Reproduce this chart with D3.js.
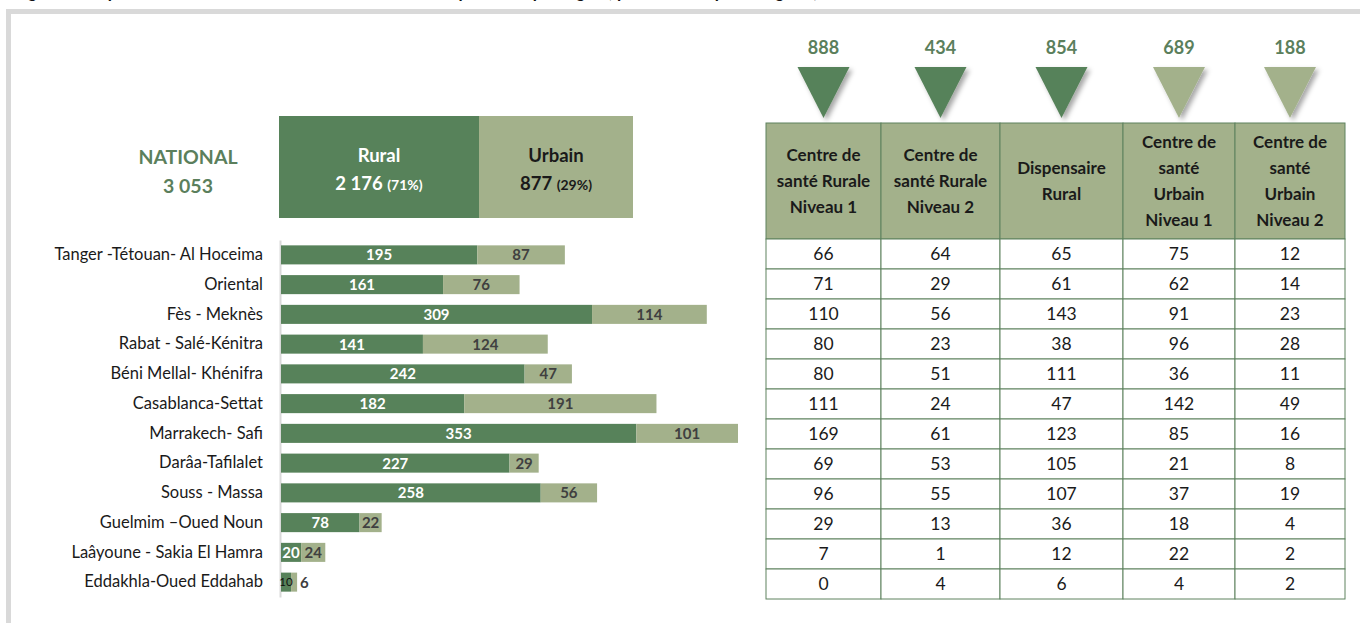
<!DOCTYPE html>
<html>
<head>
<meta charset="utf-8">
<script src="https://cdn.jsdelivr.net/npm/d3@7"></script>
<style>
body { margin: 0; background: #fff; }
svg { display: block; font-family: Lato, "Open Sans", sans-serif; }
</style>
</head>
<body>
<svg width="1360" height="623"></svg>
<script>
// data
var regions = ["Tanger -Tétouan- Al Hoceima", "Oriental", "Fès - Meknès", "Rabat - Salé-Kénitra",
	"Béni Mellal- Khénifra", "Casablanca-Settat", "Marrakech- Safi", "Darâa-Tafilalet",
	"Souss - Massa", "Guelmim \u2013Oued Noun", "Laâyoune - Sakia El Hamra", "Eddakhla-Oued Eddahab"];
var rural  = [195, 161, 309, 141, 242, 182, 353, 227, 258, 78, 20, 10];
var urbain = [87, 76, 114, 124, 47, 191, 101, 29, 56, 22, 24, 6];

var national = 3053, ruralTotal = 2176, urbainTotal = 877;
var ruralPct = "71%", urbainPct = "29%";

var categories = [
	["Centre de", "santé Rurale", "Niveau 1"],
	["Centre de", "santé Rurale", "Niveau 2"],
	["Dispensaire", "Rural"],
	["Centre de", "santé", "Urbain", "Niveau 1"],
	["Centre de", "santé", "Urbain", "Niveau 2"]];
var catMilieu = ["rural", "rural", "rural", "urbain", "urbain"];
var catTotals = [888, 434, 854, 689, 188];

var csr1 = [66, 71, 110, 80, 80, 111, 169, 69, 96, 29, 7, 0];
var csr2 = [64, 29, 56, 23, 51, 24, 61, 53, 55, 13, 1, 4];
var drur = [65, 61, 143, 38, 111, 47, 123, 105, 107, 36, 12, 6];
var csu1 = [75, 62, 91, 96, 36, 142, 85, 21, 37, 18, 22, 4];
var csu2 = [12, 14, 23, 28, 11, 49, 16, 8, 19, 4, 2, 2];
var tableCols = [csr1, csr2, drur, csu1, csu2];

var titleText = "Figure 3 : Répartition des établissements de soins de santé primaires par région, par milieu et par catégorie, 2019";

// colours
var dark = "#57825a", light = "#a3b18b", txtGreen = "#5b7f5c", border = "#5e825f";

var fmt = d3.formatLocale({decimal: ",", thousands: " ", grouping: [3], currency: ["", ""]}).format(",d");

var svg = d3.select("svg");

// title (cut by the top edge, as in the source) + frame
svg.append("text")
	.attr("x", 14).attr("y", -2)
	.attr("font-size", 17).attr("font-weight", 700).attr("fill", "#111")
	.text(titleText);

svg.append("rect")
	.attr("x", 8.5).attr("y", 11.5)
	.attr("width", 1400).attr("height", 700)
	.attr("fill", "none").attr("stroke", "#d9d9d9").attr("stroke-width", 5);

// national block
svg.append("text").attr("x", 188).attr("y", 164)
	.attr("text-anchor", "middle").attr("font-size", 19.5).attr("font-weight", 700)
	.attr("fill", txtGreen).text("NATIONAL");
svg.append("text").attr("x", 188).attr("y", 193)
	.attr("text-anchor", "middle").attr("font-size", 19.5).attr("font-weight", 700)
	.attr("fill", txtGreen).text(fmt(national));

var boxes = [
	{name: "Rural", total: ruralTotal, pct: ruralPct, x: 279, w: 200, fill: dark, col: "#fff"},
	{name: "Urbain", total: urbainTotal, pct: urbainPct, x: 479, w: 154, fill: light, col: "#1a1a1a"}];

var box = svg.selectAll("g.box").data(boxes).enter().append("g").attr("class", "box");
box.append("rect")
	.attr("x", function(d) { return d.x; }).attr("y", 116)
	.attr("width", function(d) { return d.w; }).attr("height", 102)
	.attr("fill", function(d) { return d.fill; });
box.append("text")
	.attr("x", function(d) { return d.x + d.w / 2; }).attr("y", 162)
	.attr("text-anchor", "middle").attr("font-size", 18.5).attr("font-weight", 700)
	.attr("fill", function(d) { return d.col; })
	.text(function(d) { return d.name; });
var t2 = box.append("text")
	.attr("x", function(d) { return d.x + d.w / 2; }).attr("y", 190)
	.attr("text-anchor", "middle").attr("font-size", 18.5).attr("font-weight", 700)
	.attr("fill", function(d) { return d.col; });
t2.append("tspan").text(function(d) { return fmt(d.total) + " "; });
t2.append("tspan").attr("font-size", 14).text(function(d) { return "(" + d.pct + ")"; });

// stacked bars
var x = d3.scaleLinear().domain([0, 454]).range([281, 738]);
var y = d3.scaleBand().domain(regions).range([240, 597]).paddingInner(0.36).paddingOuter(0.18);

var axis = svg.append("g")
	.attr("transform", "translate(280,0)")
	.call(d3.axisLeft(y).tickSize(0).tickPadding(17));
axis.select(".domain").attr("stroke", "#d9d9d9").attr("stroke-width", 2);
axis.selectAll("text").attr("font-size", 16.5).attr("fill", "#1a1a1a")
	.attr("font-family", "Lato, 'Open Sans', sans-serif");

var rows = regions.map(function(r, i) { return {region: r, rural: rural[i], urbain: urbain[i]}; });

var bar = svg.selectAll("g.bar").data(rows).enter().append("g").attr("class", "bar");

bar.append("rect")
	.attr("x", x(0)).attr("y", function(d) { return y(d.region); })
	.attr("width", function(d) { return x(d.rural) - x(0); })
	.attr("height", y.bandwidth()).attr("fill", dark);
bar.append("rect")
	.attr("x", function(d) { return x(d.rural); }).attr("y", function(d) { return y(d.region); })
	.attr("width", function(d) { return x(d.rural + d.urbain) - x(d.rural); })
	.attr("height", y.bandwidth()).attr("fill", light);

bar.append("text")
	.attr("x", function(d) { return (x(0) + x(d.rural)) / 2; })
	.attr("y", function(d) { return y(d.region) + y.bandwidth() / 2; })
	.attr("dy", "0.36em").attr("text-anchor", "middle")
	.attr("font-size", function(d) { return x(d.rural) - x(0) < 15 ? 11.5 : 15; })
	.attr("font-weight", function(d) { return x(d.rural) - x(0) < 15 ? 400 : 700; })
	.attr("fill", function(d) { return x(d.rural) - x(0) < 15 ? "#111" : "#fff"; })
	.text(function(d) { return d.rural; });

bar.append("text")
	.attr("x", function(d) {
		var w = x(d.rural + d.urbain) - x(d.rural);
		return w < 12 ? x(d.rural + d.urbain) + 3 : (x(d.rural) + x(d.rural + d.urbain)) / 2;
	})
	.attr("y", function(d) { return y(d.region) + y.bandwidth() / 2; })
	.attr("dy", "0.36em")
	.attr("text-anchor", function(d) { return x(d.rural + d.urbain) - x(d.rural) < 12 ? "start" : "middle"; })
	.attr("font-size", 15).attr("font-weight", 700).attr("fill", "#404040")
	.text(function(d) { return d.urbain; });

// table
var colEdges = [766, 881, 1000, 1123, 1235, 1345];
var headTop = 123, headBottom = 239;
var ty = d3.scaleBand().domain(regions).range([headBottom, 599]);

var defs = svg.append("defs");
var f = defs.append("filter").attr("id", "shadow")
	.attr("x", "-30%").attr("y", "-30%").attr("width", "170%").attr("height", "170%");
f.append("feDropShadow").attr("dx", 3).attr("dy", 3).attr("stdDeviation", 2.5)
	.attr("flood-color", "#000").attr("flood-opacity", 0.35);

var cols = categories.map(function(c, i) {
	return {lines: c, milieu: catMilieu[i], total: catTotals[i], values: tableCols[i],
		x0: colEdges[i], x1: colEdges[i + 1]};
});

var col = svg.selectAll("g.col").data(cols).enter().append("g").attr("class", "col");

col.append("text")
	.attr("x", function(d) { return (d.x0 + d.x1) / 2; }).attr("y", 54)
	.attr("text-anchor", "middle").attr("font-size", 18).attr("font-weight", 700)
	.attr("fill", txtGreen).text(function(d) { return d.total; });

col.append("path")
	.attr("d", function(d) {
		var c = (d.x0 + d.x1) / 2;
		return "M" + (c - 26) + ",67L" + (c + 26) + ",67L" + c + ",118Z";
	})
	.attr("fill", function(d) { return d.milieu == "rural" ? dark : light; })
	.attr("filter", "url(#shadow)");

col.append("rect")
	.attr("x", function(d) { return d.x0; }).attr("y", headTop)
	.attr("width", function(d) { return d.x1 - d.x0; }).attr("height", headBottom - headTop)
	.attr("fill", light).attr("stroke", border);

col.each(function(d) {
	var g = d3.select(this);
	var n = d.lines.length, lh = 26;
	var mid = (headTop + headBottom) / 2;
	g.selectAll("text.head").data(d.lines).enter().append("text")
		.attr("class", "head")
		.attr("x", (d.x0 + d.x1) / 2)
		.attr("y", function(l, k) { return mid + (k - (n - 1) / 2) * lh; })
		.attr("dy", "0.36em").attr("text-anchor", "middle")
		.attr("font-size", 17).attr("font-weight", 700).attr("fill", "#1a1a1a")
		.text(function(l) { return l; });

	g.selectAll("rect.cell").data(d.values).enter().append("rect")
		.attr("class", "cell")
		.attr("x", d.x0).attr("y", function(v, k) { return ty(regions[k]); })
		.attr("width", d.x1 - d.x0).attr("height", ty.bandwidth())
		.attr("fill", "#fff").attr("stroke", border);

	g.selectAll("text.val").data(d.values).enter().append("text")
		.attr("class", "val")
		.attr("x", (d.x0 + d.x1) / 2)
		.attr("y", function(v, k) { return ty(regions[k]) + ty.bandwidth() / 2; })
		.attr("dy", "0.36em").attr("text-anchor", "middle")
		.attr("font-size", 17.5).attr("fill", "#1a1a1a")
		.text(function(v) { return v; });
});
</script>
</body>
</html>
